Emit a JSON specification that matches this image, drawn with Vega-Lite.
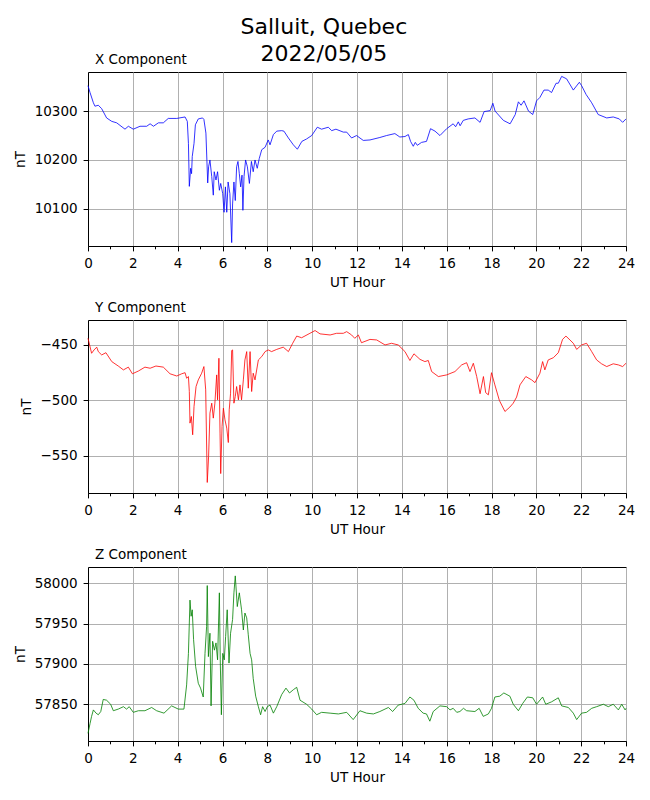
{
  "$schema": "https://vega.github.io/schema/vega-lite/v6.json",
  "padding": {"left": 12, "top": 16, "right": 5, "bottom": 5},
  "title": {
    "text": ["Salluit, Quebec", "2022/05/05"],
    "fontSize": 22,
    "lineHeight": 26.5,
    "anchor": "middle",
    "offset": -13.5
  },
  "datasets": {
    "xcomp": [
      {"hour": 0, "nT": 10352}, {"hour": 0.09, "nT": 10338}, {"hour": 0.24, "nT": 10317}, {"hour": 0.31, "nT": 10310},
      {"hour": 0.46, "nT": 10312}, {"hour": 0.61, "nT": 10305}, {"hour": 0.83, "nT": 10286}, {"hour": 1.06, "nT": 10279},
      {"hour": 1.28, "nT": 10276}, {"hour": 1.65, "nT": 10263}, {"hour": 1.8, "nT": 10269}, {"hour": 2.02, "nT": 10263},
      {"hour": 2.32, "nT": 10269}, {"hour": 2.62, "nT": 10269}, {"hour": 2.77, "nT": 10274}, {"hour": 2.92, "nT": 10269},
      {"hour": 3.14, "nT": 10276}, {"hour": 3.36, "nT": 10276}, {"hour": 3.58, "nT": 10285}, {"hour": 3.96, "nT": 10285},
      {"hour": 4.33, "nT": 10288}, {"hour": 4.43, "nT": 10279}, {"hour": 4.48, "nT": 10234}, {"hour": 4.52, "nT": 10146},
      {"hour": 4.58, "nT": 10183}, {"hour": 4.62, "nT": 10172}, {"hour": 4.65, "nT": 10207}, {"hour": 4.73, "nT": 10234},
      {"hour": 4.79, "nT": 10272}, {"hour": 4.92, "nT": 10284}, {"hour": 5.11, "nT": 10286}, {"hour": 5.17, "nT": 10283},
      {"hour": 5.26, "nT": 10255}, {"hour": 5.34, "nT": 10153}, {"hour": 5.38, "nT": 10186}, {"hour": 5.44, "nT": 10200},
      {"hour": 5.52, "nT": 10166}, {"hour": 5.59, "nT": 10128}, {"hour": 5.63, "nT": 10176}, {"hour": 5.71, "nT": 10159},
      {"hour": 5.78, "nT": 10176}, {"hour": 5.86, "nT": 10138}, {"hour": 5.92, "nT": 10152}, {"hour": 6.01, "nT": 10131},
      {"hour": 6.07, "nT": 10093}, {"hour": 6.13, "nT": 10145}, {"hour": 6.19, "nT": 10093}, {"hour": 6.25, "nT": 10155},
      {"hour": 6.33, "nT": 10131}, {"hour": 6.41, "nT": 10031}, {"hour": 6.45, "nT": 10110}, {"hour": 6.51, "nT": 10155},
      {"hour": 6.57, "nT": 10117}, {"hour": 6.63, "nT": 10186}, {"hour": 6.69, "nT": 10197}, {"hour": 6.75, "nT": 10172},
      {"hour": 6.81, "nT": 10145}, {"hour": 6.87, "nT": 10169}, {"hour": 6.91, "nT": 10097}, {"hour": 6.96, "nT": 10166},
      {"hour": 7.03, "nT": 10200}, {"hour": 7.11, "nT": 10186}, {"hour": 7.2, "nT": 10152}, {"hour": 7.29, "nT": 10197},
      {"hour": 7.37, "nT": 10176}, {"hour": 7.45, "nT": 10200}, {"hour": 7.55, "nT": 10183}, {"hour": 7.64, "nT": 10203},
      {"hour": 7.75, "nT": 10221}, {"hour": 7.9, "nT": 10226}, {"hour": 8.04, "nT": 10241}, {"hour": 8.12, "nT": 10231},
      {"hour": 8.27, "nT": 10252}, {"hour": 8.42, "nT": 10259}, {"hour": 8.64, "nT": 10260}, {"hour": 8.74, "nT": 10259},
      {"hour": 8.94, "nT": 10245}, {"hour": 9.16, "nT": 10231}, {"hour": 9.34, "nT": 10222}, {"hour": 9.54, "nT": 10238},
      {"hour": 9.75, "nT": 10243}, {"hour": 9.98, "nT": 10250}, {"hour": 10.23, "nT": 10267}, {"hour": 10.42, "nT": 10263},
      {"hour": 10.72, "nT": 10267}, {"hour": 10.87, "nT": 10260}, {"hour": 11.06, "nT": 10263}, {"hour": 11.39, "nT": 10257},
      {"hour": 11.54, "nT": 10257}, {"hour": 11.76, "nT": 10245}, {"hour": 11.98, "nT": 10250}, {"hour": 12.28, "nT": 10240},
      {"hour": 12.58, "nT": 10241}, {"hour": 13.02, "nT": 10246}, {"hour": 13.32, "nT": 10250}, {"hour": 13.69, "nT": 10254},
      {"hour": 13.91, "nT": 10247}, {"hour": 14.14, "nT": 10248}, {"hour": 14.29, "nT": 10252}, {"hour": 14.39, "nT": 10238},
      {"hour": 14.51, "nT": 10228}, {"hour": 14.6, "nT": 10236}, {"hour": 14.69, "nT": 10230}, {"hour": 14.88, "nT": 10236},
      {"hour": 15.1, "nT": 10238}, {"hour": 15.28, "nT": 10264}, {"hour": 15.48, "nT": 10259}, {"hour": 15.7, "nT": 10250},
      {"hour": 16.0, "nT": 10264}, {"hour": 16.29, "nT": 10274}, {"hour": 16.4, "nT": 10268}, {"hour": 16.52, "nT": 10278},
      {"hour": 16.6, "nT": 10270}, {"hour": 16.74, "nT": 10281}, {"hour": 16.96, "nT": 10284}, {"hour": 17.26, "nT": 10286},
      {"hour": 17.49, "nT": 10277}, {"hour": 17.67, "nT": 10299}, {"hour": 17.94, "nT": 10301}, {"hour": 18.06, "nT": 10316},
      {"hour": 18.16, "nT": 10300}, {"hour": 18.53, "nT": 10281}, {"hour": 18.83, "nT": 10274}, {"hour": 19.06, "nT": 10293},
      {"hour": 19.2, "nT": 10319}, {"hour": 19.32, "nT": 10312}, {"hour": 19.45, "nT": 10321}, {"hour": 19.65, "nT": 10300},
      {"hour": 19.84, "nT": 10293}, {"hour": 20.01, "nT": 10321}, {"hour": 20.16, "nT": 10328}, {"hour": 20.34, "nT": 10343},
      {"hour": 20.53, "nT": 10343}, {"hour": 20.68, "nT": 10338}, {"hour": 20.88, "nT": 10357}, {"hour": 20.98, "nT": 10357},
      {"hour": 21.13, "nT": 10371}, {"hour": 21.35, "nT": 10366}, {"hour": 21.65, "nT": 10343}, {"hour": 21.92, "nT": 10359},
      {"hour": 22.02, "nT": 10352}, {"hour": 22.22, "nT": 10334}, {"hour": 22.47, "nT": 10317}, {"hour": 22.76, "nT": 10293},
      {"hour": 23.14, "nT": 10286}, {"hour": 23.43, "nT": 10288}, {"hour": 23.7, "nT": 10284}, {"hour": 23.85, "nT": 10277},
      {"hour": 24.0, "nT": 10284}
    ],
    "ycomp": [
      {"hour": 0, "nT": -444}, {"hour": 0.09, "nT": -451.5}, {"hour": 0.16, "nT": -457.5}, {"hour": 0.27, "nT": -454.5},
      {"hour": 0.39, "nT": -452}, {"hour": 0.46, "nT": -456}, {"hour": 0.61, "nT": -459}, {"hour": 0.8, "nT": -457},
      {"hour": 1.06, "nT": -465}, {"hour": 1.35, "nT": -469}, {"hour": 1.58, "nT": -472.5}, {"hour": 1.8, "nT": -470},
      {"hour": 1.98, "nT": -476}, {"hour": 2.25, "nT": -473.5}, {"hour": 2.54, "nT": -470}, {"hour": 2.77, "nT": -471},
      {"hour": 3.03, "nT": -469}, {"hour": 3.36, "nT": -470}, {"hour": 3.66, "nT": -476}, {"hour": 3.96, "nT": -478},
      {"hour": 4.18, "nT": -476}, {"hour": 4.33, "nT": -475}, {"hour": 4.4, "nT": -480}, {"hour": 4.48, "nT": -478.5},
      {"hour": 4.52, "nT": -492}, {"hour": 4.55, "nT": -520.5}, {"hour": 4.61, "nT": -514.5}, {"hour": 4.67, "nT": -531},
      {"hour": 4.73, "nT": -505.5}, {"hour": 4.82, "nT": -487.5}, {"hour": 4.92, "nT": -481.5}, {"hour": 5.07, "nT": -475.5},
      {"hour": 5.17, "nT": -469.5}, {"hour": 5.25, "nT": -490.5}, {"hour": 5.32, "nT": -574}, {"hour": 5.38, "nT": -550.5},
      {"hour": 5.44, "nT": -511.5}, {"hour": 5.52, "nT": -502.5}, {"hour": 5.59, "nT": -516}, {"hour": 5.66, "nT": -502.5},
      {"hour": 5.74, "nT": -477}, {"hour": 5.78, "nT": -499.5}, {"hour": 5.84, "nT": -462}, {"hour": 5.89, "nT": -529.5},
      {"hour": 5.92, "nT": -566}, {"hour": 5.98, "nT": -523.5}, {"hour": 6.04, "nT": -507}, {"hour": 6.11, "nT": -517.5},
      {"hour": 6.19, "nT": -525}, {"hour": 6.26, "nT": -538}, {"hour": 6.3, "nT": -508.5}, {"hour": 6.36, "nT": -493.5},
      {"hour": 6.41, "nT": -455}, {"hour": 6.45, "nT": -454.5}, {"hour": 6.51, "nT": -502.5}, {"hour": 6.57, "nT": -496.5},
      {"hour": 6.63, "nT": -487.5}, {"hour": 6.71, "nT": -499.5}, {"hour": 6.78, "nT": -486}, {"hour": 6.85, "nT": -499.5},
      {"hour": 6.93, "nT": -481.5}, {"hour": 7.0, "nT": -463.5}, {"hour": 7.08, "nT": -456}, {"hour": 7.15, "nT": -489},
      {"hour": 7.23, "nT": -456}, {"hour": 7.3, "nT": -492}, {"hour": 7.37, "nT": -475.5}, {"hour": 7.45, "nT": -481.5},
      {"hour": 7.6, "nT": -463.5}, {"hour": 7.75, "nT": -460.5}, {"hour": 7.9, "nT": -456}, {"hour": 8.04, "nT": -454.5},
      {"hour": 8.19, "nT": -456}, {"hour": 8.42, "nT": -454}, {"hour": 8.71, "nT": -452}, {"hour": 8.94, "nT": -456},
      {"hour": 9.13, "nT": -448.5}, {"hour": 9.31, "nT": -442}, {"hour": 9.53, "nT": -443.5}, {"hour": 9.9, "nT": -439.5},
      {"hour": 10.13, "nT": -437}, {"hour": 10.35, "nT": -440}, {"hour": 10.8, "nT": -441}, {"hour": 11.09, "nT": -439.5},
      {"hour": 11.39, "nT": -439.5}, {"hour": 11.54, "nT": -438}, {"hour": 11.76, "nT": -441}, {"hour": 11.9, "nT": -444},
      {"hour": 12.06, "nT": -441}, {"hour": 12.2, "nT": -448}, {"hour": 12.58, "nT": -445}, {"hour": 12.88, "nT": -445.5},
      {"hour": 13.25, "nT": -450}, {"hour": 13.54, "nT": -448.5}, {"hour": 13.84, "nT": -450}, {"hour": 14.14, "nT": -456},
      {"hour": 14.36, "nT": -464}, {"hour": 14.54, "nT": -458}, {"hour": 14.81, "nT": -463}, {"hour": 15.03, "nT": -465},
      {"hour": 15.18, "nT": -464}, {"hour": 15.33, "nT": -474}, {"hour": 15.63, "nT": -478.5}, {"hour": 16.0, "nT": -477},
      {"hour": 16.37, "nT": -474}, {"hour": 16.67, "nT": -468}, {"hour": 16.89, "nT": -466}, {"hour": 17.04, "nT": -474},
      {"hour": 17.19, "nT": -466.5}, {"hour": 17.34, "nT": -478.5}, {"hour": 17.49, "nT": -494}, {"hour": 17.64, "nT": -478.5},
      {"hour": 17.74, "nT": -493}, {"hour": 17.86, "nT": -495}, {"hour": 18.0, "nT": -475}, {"hour": 18.15, "nT": -486},
      {"hour": 18.35, "nT": -500}, {"hour": 18.6, "nT": -510}, {"hour": 18.82, "nT": -506}, {"hour": 18.97, "nT": -502.5},
      {"hour": 19.12, "nT": -497}, {"hour": 19.27, "nT": -486}, {"hour": 19.53, "nT": -478.5}, {"hour": 19.79, "nT": -481.5},
      {"hour": 19.94, "nT": -484}, {"hour": 20.16, "nT": -475.5}, {"hour": 20.28, "nT": -465}, {"hour": 20.38, "nT": -472.5},
      {"hour": 20.53, "nT": -463.5}, {"hour": 20.76, "nT": -461.5}, {"hour": 20.98, "nT": -457}, {"hour": 21.17, "nT": -445},
      {"hour": 21.32, "nT": -442}, {"hour": 21.5, "nT": -445.5}, {"hour": 21.65, "nT": -448.5}, {"hour": 21.8, "nT": -454},
      {"hour": 22.02, "nT": -450}, {"hour": 22.24, "nT": -448.5}, {"hour": 22.47, "nT": -456}, {"hour": 22.69, "nT": -463.5},
      {"hour": 22.91, "nT": -467}, {"hour": 23.14, "nT": -469.5}, {"hour": 23.43, "nT": -467}, {"hour": 23.66, "nT": -468},
      {"hour": 23.85, "nT": -469.5}, {"hour": 24.0, "nT": -466.5}
    ],
    "zcomp": [
      {"hour": 0, "nT": 57814}, {"hour": 0.09, "nT": 57826}, {"hour": 0.16, "nT": 57835}, {"hour": 0.24, "nT": 57843},
      {"hour": 0.36, "nT": 57839}, {"hour": 0.46, "nT": 57837}, {"hour": 0.57, "nT": 57841}, {"hour": 0.68, "nT": 57856},
      {"hour": 0.83, "nT": 57855}, {"hour": 1.01, "nT": 57850}, {"hour": 1.13, "nT": 57842}, {"hour": 1.35, "nT": 57844},
      {"hour": 1.58, "nT": 57847}, {"hour": 1.72, "nT": 57844}, {"hour": 1.84, "nT": 57847}, {"hour": 2.02, "nT": 57840},
      {"hour": 2.25, "nT": 57842}, {"hour": 2.54, "nT": 57842}, {"hour": 2.84, "nT": 57846}, {"hour": 3.06, "nT": 57842},
      {"hour": 3.39, "nT": 57839}, {"hour": 3.73, "nT": 57848}, {"hour": 4.03, "nT": 57844}, {"hour": 4.28, "nT": 57844},
      {"hour": 4.4, "nT": 57874}, {"hour": 4.48, "nT": 57913}, {"hour": 4.55, "nT": 57979}, {"hour": 4.6, "nT": 57959},
      {"hour": 4.65, "nT": 57967}, {"hour": 4.71, "nT": 57930}, {"hour": 4.8, "nT": 57897}, {"hour": 4.92, "nT": 57876},
      {"hour": 5.02, "nT": 57870}, {"hour": 5.14, "nT": 57859}, {"hour": 5.22, "nT": 57913}, {"hour": 5.29, "nT": 57946},
      {"hour": 5.32, "nT": 57997}, {"hour": 5.37, "nT": 57909}, {"hour": 5.44, "nT": 57938}, {"hour": 5.49, "nT": 57848},
      {"hour": 5.56, "nT": 57928}, {"hour": 5.64, "nT": 57917}, {"hour": 5.71, "nT": 57926}, {"hour": 5.78, "nT": 57905},
      {"hour": 5.86, "nT": 57988}, {"hour": 5.9, "nT": 57905}, {"hour": 5.95, "nT": 57837}, {"hour": 6.01, "nT": 57913},
      {"hour": 6.08, "nT": 57905}, {"hour": 6.14, "nT": 57934}, {"hour": 6.21, "nT": 57967}, {"hour": 6.29, "nT": 57901},
      {"hour": 6.36, "nT": 57938}, {"hour": 6.45, "nT": 57955}, {"hour": 6.51, "nT": 57988}, {"hour": 6.57, "nT": 58009},
      {"hour": 6.66, "nT": 57971}, {"hour": 6.75, "nT": 57988}, {"hour": 6.85, "nT": 57967}, {"hour": 6.93, "nT": 57942},
      {"hour": 7.0, "nT": 57963}, {"hour": 7.08, "nT": 57957}, {"hour": 7.15, "nT": 57936}, {"hour": 7.23, "nT": 57913},
      {"hour": 7.3, "nT": 57905}, {"hour": 7.37, "nT": 57882}, {"hour": 7.48, "nT": 57860}, {"hour": 7.6, "nT": 57847},
      {"hour": 7.7, "nT": 57837}, {"hour": 7.79, "nT": 57847}, {"hour": 7.9, "nT": 57841}, {"hour": 8.0, "nT": 57847},
      {"hour": 8.12, "nT": 57849}, {"hour": 8.27, "nT": 57839}, {"hour": 8.42, "nT": 57847}, {"hour": 8.64, "nT": 57862},
      {"hour": 8.83, "nT": 57870}, {"hour": 8.99, "nT": 57864}, {"hour": 9.16, "nT": 57868}, {"hour": 9.31, "nT": 57871},
      {"hour": 9.46, "nT": 57855}, {"hour": 9.75, "nT": 57850}, {"hour": 9.98, "nT": 57844}, {"hour": 10.2, "nT": 57837},
      {"hour": 10.42, "nT": 57840}, {"hour": 10.8, "nT": 57839}, {"hour": 11.17, "nT": 57838}, {"hour": 11.54, "nT": 57840},
      {"hour": 11.83, "nT": 57831}, {"hour": 12.13, "nT": 57842}, {"hour": 12.43, "nT": 57839}, {"hour": 12.73, "nT": 57838},
      {"hour": 13.02, "nT": 57841}, {"hour": 13.4, "nT": 57846}, {"hour": 13.59, "nT": 57841}, {"hour": 13.84, "nT": 57849},
      {"hour": 14.14, "nT": 57851}, {"hour": 14.36, "nT": 57859}, {"hour": 14.54, "nT": 57855}, {"hour": 14.73, "nT": 57845},
      {"hour": 14.95, "nT": 57839}, {"hour": 15.1, "nT": 57838}, {"hour": 15.25, "nT": 57829}, {"hour": 15.4, "nT": 57841},
      {"hour": 15.7, "nT": 57848}, {"hour": 16.0, "nT": 57847}, {"hour": 16.15, "nT": 57843}, {"hour": 16.29, "nT": 57845},
      {"hour": 16.45, "nT": 57840}, {"hour": 16.59, "nT": 57841}, {"hour": 16.75, "nT": 57845}, {"hour": 16.89, "nT": 57842},
      {"hour": 17.26, "nT": 57841}, {"hour": 17.45, "nT": 57845}, {"hour": 17.63, "nT": 57835}, {"hour": 17.86, "nT": 57838},
      {"hour": 18.0, "nT": 57845}, {"hour": 18.15, "nT": 57859}, {"hour": 18.37, "nT": 57860}, {"hour": 18.55, "nT": 57864},
      {"hour": 18.82, "nT": 57860}, {"hour": 18.97, "nT": 57850}, {"hour": 19.2, "nT": 57842}, {"hour": 19.39, "nT": 57851},
      {"hour": 19.6, "nT": 57859}, {"hour": 19.84, "nT": 57858}, {"hour": 20.01, "nT": 57850}, {"hour": 20.28, "nT": 57859},
      {"hour": 20.42, "nT": 57850}, {"hour": 20.68, "nT": 57853}, {"hour": 20.98, "nT": 57858}, {"hour": 21.13, "nT": 57848},
      {"hour": 21.43, "nT": 57846}, {"hour": 21.65, "nT": 57839}, {"hour": 21.8, "nT": 57831}, {"hour": 22.02, "nT": 57839},
      {"hour": 22.24, "nT": 57840}, {"hour": 22.47, "nT": 57845}, {"hour": 22.69, "nT": 57847}, {"hour": 22.99, "nT": 57850},
      {"hour": 23.21, "nT": 57847}, {"hour": 23.43, "nT": 57850}, {"hour": 23.66, "nT": 57843}, {"hour": 23.81, "nT": 57850},
      {"hour": 23.96, "nT": 57843}, {"hour": 24.0, "nT": 57845}
    ]
  },
  "spacing": 10,
  "vconcat": [
    {
      "width": 538,
      "height": 174,
      "title": {"text": "X Component", "anchor": "start", "frame": "group", "dx": 7, "offset": 6},
      "data": {"name": "xcomp"},
      "mark": {"type": "line", "color": "#0000ff", "strokeWidth": 0.8},
      "encoding": {
        "x": {
          "field": "hour", "type": "quantitative",
          "scale": {"domain": [0, 24], "nice": false},
          "axis": {
            "title": "UT Hour",
            "values": [0, 1, 2, 3, 4, 5, 6, 7, 8, 9, 10, 11, 12, 13, 14, 15, 16, 17, 18, 19, 20, 21, 22, 23, 24],
            "labelExpr": "datum.value % 2 === 0 ? datum.label : ''",
            "tickSize": {"condition": {"test": "datum.value % 2 === 1", "value": 2.8}, "value": 4.9},
            "gridOpacity": {"condition": {"test": "datum.value % 2 === 1", "value": 0}, "value": 1}
          }
        },
        "y": {
          "field": "nT", "type": "quantitative",
          "scale": {"domain": [10024, 10380], "nice": false, "zero": false},
          "axis": {"title": "nT", "values": [10100, 10200, 10300], "format": "d"}
        }
      }
    },
    {
      "width": 538,
      "height": 173,
      "title": {"text": "Y Component", "anchor": "start", "frame": "group", "dx": 7, "offset": 6},
      "data": {"name": "ycomp"},
      "mark": {"type": "line", "color": "#ff0000", "strokeWidth": 0.8},
      "encoding": {
        "x": {
          "field": "hour", "type": "quantitative",
          "scale": {"domain": [0, 24], "nice": false},
          "axis": {
            "title": "UT Hour",
            "values": [0, 1, 2, 3, 4, 5, 6, 7, 8, 9, 10, 11, 12, 13, 14, 15, 16, 17, 18, 19, 20, 21, 22, 23, 24],
            "labelExpr": "datum.value % 2 === 0 ? datum.label : ''",
            "tickSize": {"condition": {"test": "datum.value % 2 === 1", "value": 2.8}, "value": 4.9},
            "gridOpacity": {"condition": {"test": "datum.value % 2 === 1", "value": 0}, "value": 1}
          }
        },
        "y": {
          "field": "nT", "type": "quantitative",
          "scale": {"domain": [-583.5, -427.5], "nice": false, "zero": false},
          "axis": {"title": "nT", "values": [-550, -500, -450], "format": "d"}
        }
      }
    },
    {
      "width": 538,
      "height": 174,
      "title": {"text": "Z Component", "anchor": "start", "frame": "group", "dx": 7, "offset": 6},
      "data": {"name": "zcomp"},
      "mark": {"type": "line", "color": "#008000", "strokeWidth": 0.8},
      "encoding": {
        "x": {
          "field": "hour", "type": "quantitative",
          "scale": {"domain": [0, 24], "nice": false},
          "axis": {
            "title": "UT Hour",
            "values": [0, 1, 2, 3, 4, 5, 6, 7, 8, 9, 10, 11, 12, 13, 14, 15, 16, 17, 18, 19, 20, 21, 22, 23, 24],
            "labelExpr": "datum.value % 2 === 0 ? datum.label : ''",
            "tickSize": {"condition": {"test": "datum.value % 2 === 1", "value": 2.8}, "value": 4.9},
            "gridOpacity": {"condition": {"test": "datum.value % 2 === 1", "value": 0}, "value": 1}
          }
        },
        "y": {
          "field": "nT", "type": "quantitative",
          "scale": {"domain": [57804.5, 58020], "nice": false, "zero": false},
          "axis": {"title": "nT", "values": [57850, 57900, 57950, 58000], "format": "d"}
        }
      }
    }
  ],
  "config": {
    "font": "DejaVu Sans",
    "background": "white",
    "view": {"stroke": "black", "strokeWidth": 1},
    "title": {"fontWeight": "normal", "color": "black", "fontSize": 13.5},
    "axis": {
      "labelFontSize": 13.5,
      "titleFontSize": 13.5,
      "titleFontWeight": "normal",
      "labelColor": "black",
      "titleColor": "black",
      "domainColor": "black",
      "domainWidth": 1,
      "tickColor": "black",
      "tickWidth": 1,
      "tickSize": 4.9,
      "gridColor": "#b0b0b0",
      "gridWidth": 1,
      "labelPadding": 6,
      "labelFlush": false,
      "labelOverlap": false
    },
    "axisX": {"titlePadding": 5},
    "axisY": {"titlePadding": 7}
  }
}
